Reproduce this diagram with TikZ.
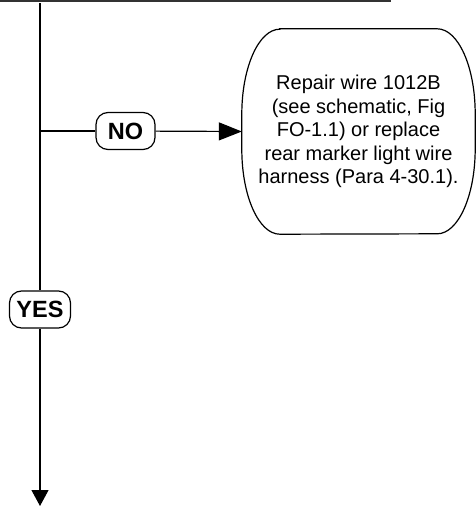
\documentclass[tikz,border=0pt]{standalone}
\usepackage{fontspec}
\setmainfont{Liberation Sans}
\usetikzlibrary{arrows.meta}

\begin{document}
\begin{tikzpicture}[x=1pt,y=1pt,
  flow/.style={draw=black,line width=1.2pt},
  answer/.style={rectangle,rounded corners=12pt,draw=black,fill=white,line width=1.2pt,font=\fontsize{23.5}{25}\selectfont\bfseries,minimum width=59pt,minimum height=37pt,inner xsep=7pt,inner ysep=2pt},
  action/.style={rectangle,minimum width=233pt,minimum height=205pt,align=center,inner sep=0pt,font=\fontsize{20}{23.5}\selectfont},
  bigtip/.style={-{Triangle[length=23pt,width=18pt]}}]
\useasboundingbox (0,0) rectangle (476,-506);
\coordinate (barL) at (0,-0.8);
\coordinate (barR) at (391,-0.8);
\coordinate (entry) at (40,-3);
\coordinate (tee) at (40,-131);
\coordinate (exit) at (40,-506);
\node[answer] (no) at (125.5,-131) {NO};
\node[answer] (yes) at (40,-309.5) {YES};
\node[action] (repair) at (358.5,-131.5) {Repair wire 1012B\\(see schematic, Fig\\FO-1.1) or replace\\rear marker light wire\\harness (Para 4-30.1).};
% outline of the action box
\draw[flow] ([xshift=38pt]repair.north west) -- ([xshift=-38pt]repair.north east)
  arc[start angle=90,end angle=0,x radius=38pt,y radius=85pt] -- ++(0,-35pt)
  arc[start angle=0,end angle=-90,x radius=38pt,y radius=85pt] -- ([xshift=38pt]repair.south west)
  arc[start angle=270,end angle=180,x radius=38pt,y radius=85pt] -- ++(0,35pt)
  arc[start angle=180,end angle=90,x radius=38pt,y radius=85pt] -- cycle;
\draw[draw=black!80,line width=1.6pt] (barL) -- (barR);
\draw[flow] (entry) -- (yes);
\draw[flow,-{Triangle[length=16pt,width=17pt]}] (yes) -- (exit);
\draw[flow] (tee) -- (no);
\draw[flow,bigtip] (no) -- (repair.west);
\end{tikzpicture}
\end{document}
